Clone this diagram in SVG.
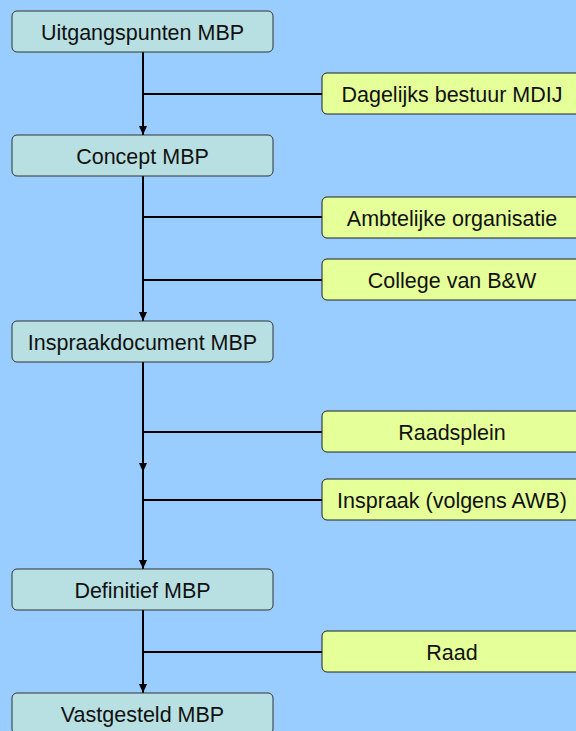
<svg xmlns="http://www.w3.org/2000/svg" width="576" height="731" viewBox="0 0 576 731">
<style>
.main rect{fill:#b8e0e2;stroke:#333;stroke-width:1}
.side rect{fill:#e5ff99;stroke:#222;stroke-width:1}
text{font-family:"Liberation Sans",Arial,sans-serif;font-size:21.5px;fill:#111;text-anchor:middle}
.c{stroke:#000;stroke-width:2;fill:none}
</style>
<defs>
<marker id="a" markerWidth="9" markerHeight="8" refX="9" refY="4" orient="auto" markerUnits="userSpaceOnUse" viewBox="0 0 9 8">
<path d="M0,0 L9,4 L0,8 Z" fill="#000"/>
</marker>
</defs>
<rect width="576" height="731" fill="#99ccff"/>
<g id="connectors">
<line class="c" x1="143" y1="52" x2="143" y2="135" marker-end="url(#a)"/>
<line class="c" x1="143" y1="176" x2="143" y2="321" marker-end="url(#a)"/>
<line class="c" x1="143" y1="362" x2="143" y2="472" marker-end="url(#a)"/>
<line class="c" x1="143" y1="470" x2="143" y2="569" marker-end="url(#a)"/>
<line class="c" x1="143" y1="610" x2="143" y2="693" marker-end="url(#a)"/>
<line class="c" x1="143" y1="94" x2="322" y2="94"/>
<line class="c" x1="143" y1="217" x2="322" y2="217"/>
<line class="c" x1="143" y1="280" x2="322" y2="280"/>
<line class="c" x1="143" y1="432" x2="322" y2="432"/>
<line class="c" x1="143" y1="500" x2="322" y2="500"/>
<line class="c" x1="143" y1="652" x2="322" y2="652"/>
</g>
<g id="n1" class="main"><rect x="12" y="11" width="261" height="41" rx="5"/><text x="142.5" y="39.5">Uitgangspunten MBP</text></g>
<g id="n2" class="main"><rect x="12" y="135" width="261" height="41" rx="5"/><text x="142.5" y="163.5">Concept MBP</text></g>
<g id="n3" class="main"><rect x="12" y="321" width="261" height="41" rx="5"/><text x="142.5" y="349.5">Inspraakdocument MBP</text></g>
<g id="n4" class="main"><rect x="12" y="569" width="261" height="41" rx="5"/><text x="142.5" y="597.5">Definitief MBP</text></g>
<g id="n5" class="main"><rect x="12" y="693" width="261" height="41" rx="5"/><text x="142.5" y="721.5">Vastgesteld MBP</text></g>
<g id="s1" class="side"><rect x="322" y="73" width="261" height="41" rx="5"/><text x="452" y="101.5">Dagelijks bestuur MDIJ</text></g>
<g id="s2" class="side"><rect x="322" y="197" width="261" height="41" rx="5"/><text x="452" y="225.5">Ambtelijke organisatie</text></g>
<g id="s3" class="side"><rect x="322" y="259" width="261" height="41" rx="5"/><text x="452" y="287.5">College van B&amp;W</text></g>
<g id="s4" class="side"><rect x="322" y="411" width="261" height="41" rx="5"/><text x="452" y="439.5">Raadsplein</text></g>
<g id="s5" class="side"><rect x="322" y="479" width="261" height="41" rx="5"/><text x="452" y="507.5">Inspraak (volgens AWB)</text></g>
<g id="s6" class="side"><rect x="322" y="631" width="261" height="41" rx="5"/><text x="452" y="659.5">Raad</text></g>
</svg>
